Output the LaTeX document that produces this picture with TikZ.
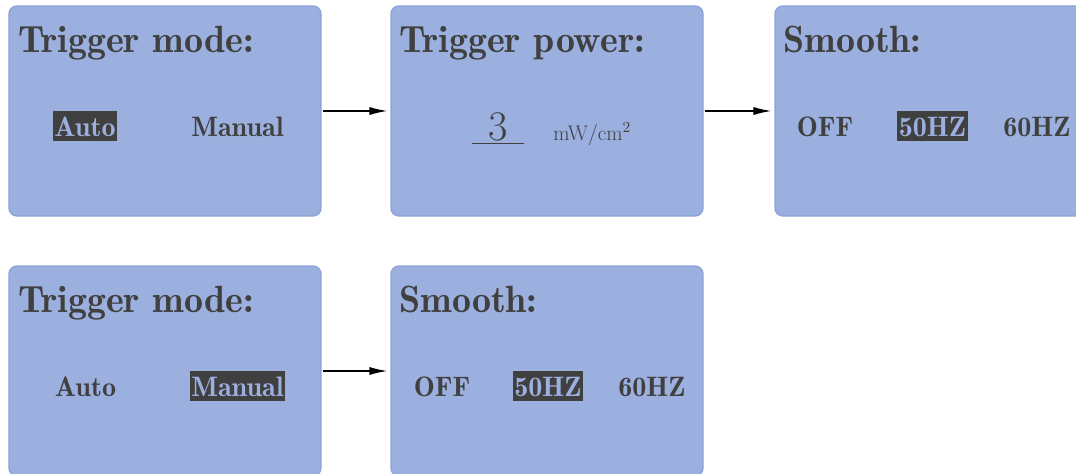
\documentclass[tikz,border=0pt]{standalone}
\usepackage{tikz}
\usetikzlibrary{arrows.meta}

\definecolor{lcdblue}{RGB}{156,176,223}
\definecolor{lcdedge}{RGB}{142,163,214}
\definecolor{lcdink}{RGB}{64,64,64}

\newcommand{\titlefont}{\fontsize{27}{30}\fontseries{b}\selectfont}
\newcommand{\optfont}{\fontsize{20}{24}\fontseries{b}\selectfont}

\begin{document}
\begin{tikzpicture}[
    screen/.style={draw=lcdedge, line width=1pt, fill=lcdblue, rounded corners=0.2cm,
                   minimum width=7.8cm, minimum height=5.25cm},
    title/.style={anchor=base west, inner sep=0pt, text=lcdink, font=\titlefont},
    opt/.style={inner xsep=1pt, inner ysep=0pt, minimum height=0.75cm,
                text height=0.5cm, text depth=0pt, text=lcdink, font=\optfont},
    chosen/.style={opt, fill=lcdink, text=lcdblue},
    flow/.style={-{Latex[length=0.45cm, width=0.2cm]}, line width=1pt,
                 shorten <=1pt, shorten >=2pt}
]
    \useasboundingbox (0, 0) rectangle (26.9, 11.825);

%%   kw   (name)      (x, y)           {text}
    \node[screen] (mode1)   at (4.125, 9.05)   {};
    \node[screen] (power)   at (13.675, 9.05)  {};
    \node[screen] (smooth1) at (23.275, 9.05)  {};
    \node[screen] (mode2)   at (4.125, 2.55)   {};
    \node[screen] (smooth2) at (13.675, 2.55)  {};

    \node[title] (t1) at (0.45, 10.5)    {Trigger mode:};
    \node[title] (t2) at (9.975, 10.5)   {Trigger power:};
    \node[title] (t3) at (19.575, 10.5)  {Smooth:};
    \node[title] (t4) at (0.45, 4.025)   {Trigger mode:};
    \node[title] (t5) at (9.975, 4.025)  {Smooth:};

    \node[chosen] (auto1)   at (2.125, 8.675)   {Auto};
    \node[opt]    (manual1) at (5.9375, 8.675)  {Manual};
    \node[opt]    (auto2)   at (2.1375, 2.175)  {Auto};
    \node[chosen] (manual2) at (5.9375, 2.175)  {Manual};

    \node[opt]    (off1)    at (20.625, 8.675)  {OFF};
    \node[chosen] (fifty1)  at (23.3125, 8.675) {50HZ};
    \node[opt]    (sixty1)  at (25.925, 8.675)  {60HZ};
    \node[opt]    (off2)    at (11.05, 2.175)   {OFF};
    \node[chosen] (fifty2)  at (13.7, 2.175)    {50HZ};
    \node[opt]    (sixty2)  at (16.3, 2.175)    {60HZ};

    \node[anchor=base, minimum width=1.3cm, inner xsep=0pt, inner ysep=0.075cm,
          text depth=0pt, text=lcdink, font=\fontsize{30}{32}\selectfont]
          (level) at (12.45, 8.325) {3};
    \draw[lcdink, line width=0.8pt] (level.south west) -- (level.south east);
    \node[anchor=base west, inner sep=0pt, text=lcdink, font=\fontsize{15}{18}\selectfont]
          (unit) at (13.825, 8.325) {mW/cm$^2$};

    \draw[flow] (mode1) -- (power);
    \draw[flow] (power) -- (smooth1);
    \draw[flow] (mode2) -- (smooth2);
\end{tikzpicture}
\end{document}
